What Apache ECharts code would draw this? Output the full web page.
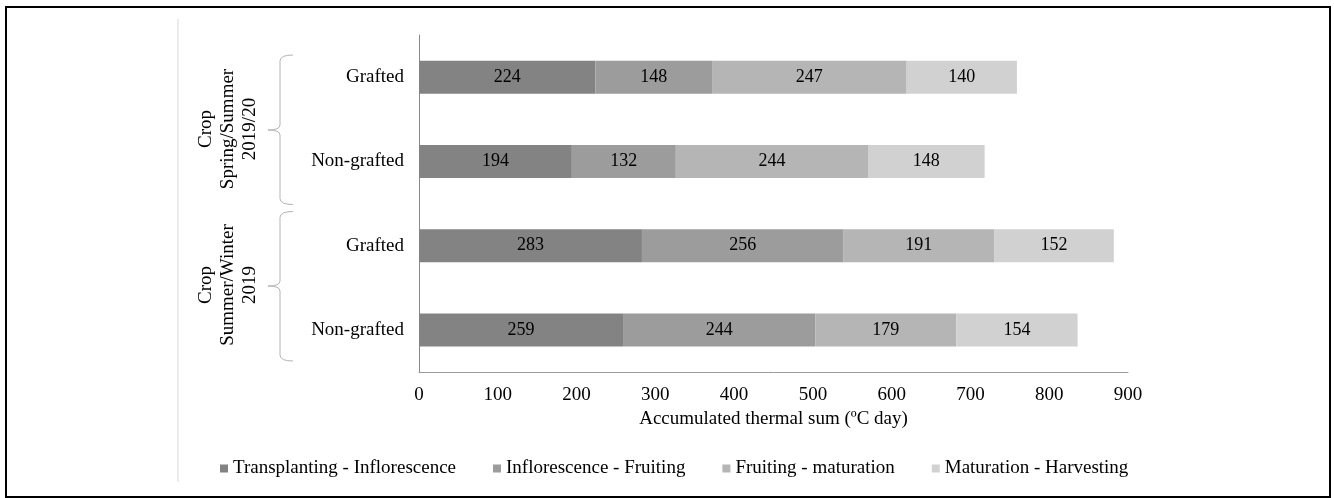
<!DOCTYPE html>
<html>
<head>
<meta charset="utf-8">
<script src="https://cdn.jsdelivr.net/npm/echarts@6/dist/echarts.min.js"></script>
<style>
html,body{margin:0;padding:0;background:#fff;}
#chart{width:1334px;height:498px;}
</style>
</head>
<body>
<div id="chart"></div>
<script>
// ---- data (top to bottom) ----
var categories = ['Grafted', 'Non-grafted', 'Grafted', 'Non-grafted'];
var groupLabels = ['Crop\nSpring/Summer\n2019/20', 'Crop\nSummer/Winter\n2019'];
var seriesNames = ['Transplanting - Inflorescence', 'Inflorescence - Fruiting', 'Fruiting - maturation', 'Maturation - Harvesting'];
var transplantingInflorescence = [224, 194, 283, 259];
var inflorescenceFruiting = [148, 132, 256, 244];
var fruitingMaturation = [247, 244, 191, 179];
var maturationHarvesting = [140, 148, 152, 154];
var xTicks = [0, 100, 200, 300, 400, 500, 600, 700, 800, 900];

var colors = ['#838383', '#9c9c9c', '#b5b5b5', '#d1d1d1'];
var FONT = 'Liberation Serif, Times New Roman, serif';
var seriesValues = [transplantingInflorescence, inflorescenceFruiting, fruitingMaturation, maturationHarvesting];

var chart = echarts.init(document.getElementById('chart'));
var series = seriesNames.map(function (name, i) {
  return {
    name: name,
    type: 'bar',
    stack: 'total',
    barWidth: 33,
    itemStyle: { color: colors[i] },
    label: {
      show: true,
      position: 'inside',
      color: '#000',
      fontFamily: FONT,
      fontSize: 18
    },
    emphasis: { disabled: true },
    data: seriesValues[i]
  };
});

chart.setOption({
  animation: false,
  backgroundColor: '#fff',
  grid: { left: 419, right: 206, top: 35, bottom: 126 },
  legend: {
    left: 215,
    top: 454,
    itemWidth: 8,
    itemHeight: 8,
    itemGap: 37,
    icon: 'rect',
    textStyle: { fontFamily: FONT, fontSize: 19, color: '#000' },
    data: seriesNames
  },
  xAxis: {
    type: 'value',
    min: xTicks[0],
    max: xTicks[xTicks.length - 1],
    interval: 100,
    name: 'Accumulated thermal sum (ºC day)',
    nameLocation: 'middle',
    nameGap: 38,
    nameTextStyle: { fontFamily: FONT, fontSize: 19, color: '#000' },
    axisLine: { show: true, lineStyle: { color: '#9a9a9a', width: 1 } },
    axisTick: { show: false },
    splitLine: { show: false },
    axisLabel: { fontFamily: FONT, fontSize: 19, color: '#000', margin: 14 }
  },
  yAxis: {
    type: 'category',
    inverse: true,
    data: categories,
    axisLine: { show: true, lineStyle: { color: '#8a8a8a', width: 1 } },
    axisTick: { show: false },
    axisLabel: { fontFamily: FONT, fontSize: 19, color: '#000', margin: 15 }
  },
  series: series
});

// ---- decorations: frame, separator, braces and group labels ----
var centers = categories.map(function (c, i) {
  return chart.convertToPixel({ yAxisIndex: 0 }, i);
});
var half = (centers[1] - centers[0]) / 2;
var bracePads = [[20, 1], [8, -11]];
var braceX = 280;
var braceStyle = { stroke: '#b4b4b4', lineWidth: 1, fill: 'none' };
var graphics = [
  { type: 'rect', shape: { x: 6, y: 7, width: 1324, height: 490 }, style: { fill: 'none', stroke: '#000', lineWidth: 2 }, silent: true },
  { type: 'line', shape: { x1: 178, y1: 19, x2: 178, y2: 482 }, style: { stroke: '#d9d9d9', lineWidth: 1 }, silent: true }
];
groupLabels.forEach(function (label, g) {
  var bandTop = centers[g * 2] - half;
  var bandBottom = centers[g * 2 + 1] + half;
  var top = bandTop + bracePads[g][0];
  var bottom = bandBottom + bracePads[g][1];
  var mid = Math.round((top + bottom) / 2);
  var x = braceX;
  graphics.push(
    { type: 'bezierCurve', shape: { x1: x + 13, y1: top, x2: x, y2: top + 6, cpx1: x, cpy1: top }, style: braceStyle, silent: true },
    { type: 'line', shape: { x1: x, y1: top + 6, x2: x, y2: mid - 5 }, style: braceStyle, silent: true },
    { type: 'bezierCurve', shape: { x1: x, y1: mid - 5, x2: x - 12, y2: mid, cpx1: x, cpy1: mid }, style: braceStyle, silent: true },
    { type: 'bezierCurve', shape: { x1: x - 12, y1: mid, x2: x, y2: mid + 5, cpx1: x, cpy1: mid }, style: braceStyle, silent: true },
    { type: 'line', shape: { x1: x, y1: mid + 5, x2: x, y2: bottom - 6 }, style: braceStyle, silent: true },
    { type: 'bezierCurve', shape: { x1: x, y1: bottom - 6, x2: x + 13, y2: bottom, cpx1: x, cpy1: bottom }, style: braceStyle, silent: true }
  );
  graphics.push({
    type: 'text',
    x: 228,
    y: mid - 1,
    rotation: Math.PI / 2,
    style: {
      text: label,
      font: '19px ' + FONT,
      lineHeight: 22,
      fill: '#000',
      align: 'center',
      verticalAlign: 'middle'
    },
    silent: true
  });
});
chart.setOption({ graphic: { elements: graphics } });
</script>
</body>
</html>
